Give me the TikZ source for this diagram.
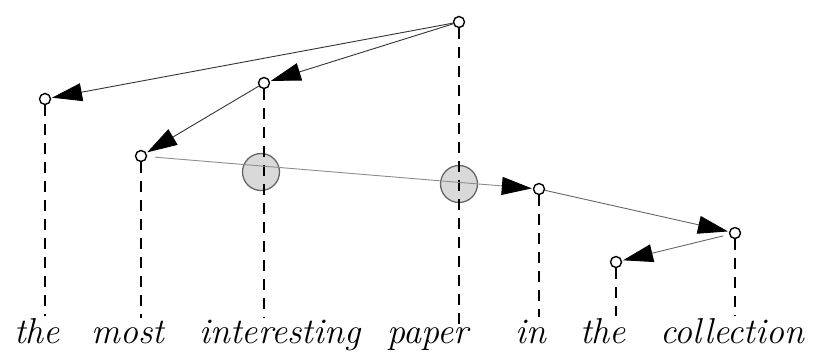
\documentclass[tikz,border=0pt]{standalone}
\usepackage{tikz}
\usetikzlibrary{arrows.meta}

\begin{document}
\begin{tikzpicture}[
        x=1pt, y=-1pt,
        dot/.style   = {draw, circle, line width=1.4pt, minimum size=11pt, inner sep=0, fill=white},
        bigdot/.style = {draw=black!60, circle, line width=1.3pt, minimum size=37pt, inner sep=0, fill=black!15},
        word/.style  = {anchor=base, inner sep=2pt, font=\fontsize{36}{40}\selectfont\itshape},
        stem/.style  = {dash pattern=on 11pt off 8pt, line width=1.2pt},
        arrow/.style = {-{Triangle[length=30pt, width=18pt, color=black, fill=black]}, line width=0.9pt, draw=black!80, shorten >=1pt},
    ]
        \useasboundingbox (0,0) rectangle (816,354);

        % words
        \node[word] (w1) at (37,343)  {the};
        \node[word] (w2) at (128,343) {most};
        \node[word] (w3) at (280,343) {interesting};
        \node[word] (w4) at (428,343) {paper};
        \node[word] (w5) at (531,343) {in};
        \node[word] (w6) at (603,343) {the};
        \node[word] (w7) at (732,343) {collection};

        % grey circles on the long link
        \node[bigdot] (c1) at (261,172) {};
        \node[bigdot] (c2) at (459,184) {};

        % head nodes
        \node[dot] (the)  at (45,99)   {};
        \node[dot] (most) at (141,156) {};
        \node[dot] (int)  at (264,83)  {};
        \node[dot] (pap)  at (459,22)  {};
        \node[dot] (in)   at (539,189) {};
        \node[dot] (the2) at (616,262) {};
        \node[dot] (col)  at (735,233) {};

        % projection lines
        \draw[stem] (the)  -- (the |- w1.north);
        \draw[stem] (most) -- (most |- w2.north);
        \draw[stem] (int)  -- (int |- w3.north);
        \draw[stem] (pap)  -- (pap |- w4.north);
        \draw[stem] (in)   -- (in |- w5.north);
        \draw[stem] (the2) -- (the2 |- w6.north);
        \draw[stem] (col)  -- (col |- w7.north);

        % dependencies
        \draw[arrow] (pap) -- (the);
        \draw[arrow] (pap) -- (int);
        \draw[arrow] (int) -- (most);
        \draw[arrow, draw=black!45, shorten <=8pt] (most) -- (in);
        \draw[arrow, draw=black!60] (in) -- (col);
        \draw[arrow, draw=black!60, shorten <=6pt] (col) -- (the2);
    \end{tikzpicture}
\end{document}
